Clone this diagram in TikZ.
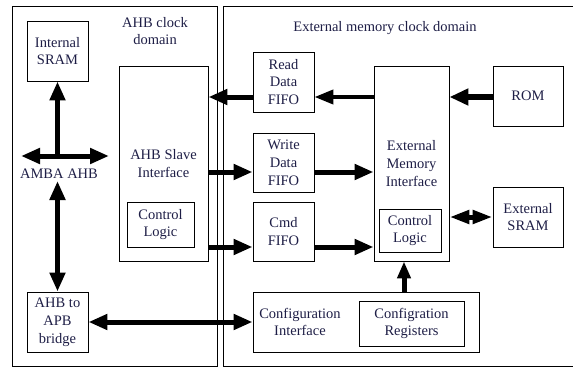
\documentclass[tikz,border=0pt]{standalone}
\usepackage{fontspec}
\setmainfont{Liberation Serif}
\usetikzlibrary{arrows.meta,calc}
\definecolor{txt}{RGB}{30,30,70}
\begin{document}
\begin{tikzpicture}[x=1pt,y=-1pt,
  fnt/.style={font=\fontsize{14.5}{17.8}\selectfont,text=txt},
  box/.style={draw,line width=0.9pt,inner sep=0pt,align=center,fnt},
  lbl/.style={inner sep=0pt,align=center,fnt},
  bus/.style={line width=5pt,-{Triangle[length=19pt,width=15pt]}},
  bus2/.style={line width=5pt,{Triangle[length=19pt,width=15pt]}-{Triangle[length=19pt,width=15pt]}},
  thinbus/.style={line width=4pt,-{Triangle[length=19pt,width=14pt]}},
  bigbus/.style={line width=6pt,-{Triangle[length=19pt,width=16pt]}}
]
\useasboundingbox (0,0) rectangle (573,367);

% clock domains
\node[box,anchor=north west,minimum width=205pt,minimum height=360pt] (ahbdom) at (12,6) {};
\node[box,anchor=north west,minimum width=360pt,minimum height=360pt] (extdom) at (223,6) {};
\node[lbl] (ahbtxt) at (155,31) {AHB clock\\domain};
\node[lbl] (exttxt) at (385,28) {External memory clock domain};

% AHB side
\node[box,minimum width=61pt,minimum height=60pt] (isram) at (57.5,51) {Internal\\SRAM};
\node[box,minimum width=89pt,minimum height=195pt] (slave) at (163.5,163.5) {AHB Slave\\Interface};
\node[box,minimum width=67pt,minimum height=45pt] (ctrll) at (160.5,224.5) {Control\\Logic};
\node[box,minimum width=61pt,minimum height=60pt] (bridge) at (57.5,322) {AHB to\\APB\\bridge};
\node[lbl] (amba) at (59,174) {AMBA AHB};

% External side
\node[box,minimum width=61pt,minimum height=60pt] (rfifo) at (283.5,82) {Read\\Data\\FIFO};
\node[box,minimum width=61pt,minimum height=59pt] (wfifo) at (283.5,162.5) {Write\\Data\\FIFO};
\node[box,minimum width=61pt,minimum height=59pt] (cfifo) at (283.5,231.5) {Cmd\\FIFO};
\node[box,minimum width=75pt,minimum height=195pt] (emi) at (411.5,163.5) {External\\Memory\\Interface};
\node[box,minimum width=62pt,minimum height=43pt] (ctrlr) at (410,230.5) {Control\\Logic};
\node[box,minimum width=70pt,minimum height=60pt] (rom) at (528,96) {ROM};
\node[box,minimum width=70pt,minimum height=60pt] (esram) at (528,217) {External\\SRAM};
\node[box,minimum width=226pt,minimum height=60pt] (cfgif) at (366,322) {};
\node[lbl] (cfgtxt) at (300,322) {Configuration\\Interface};
\node[box,minimum width=105pt,minimum height=45pt] (cfgreg) at (411.5,323.5) {Configration\\Registers};

% helper coordinates
\coordinate (yR) at (0,97);
\coordinate (yW) at (0,172);
\coordinate (yC) at (0,247);
\coordinate (yS) at (0,217);
\coordinate (xV) at (404,0);
\coordinate (busL) at (21,156);
\coordinate (busR) at (109,156);
\coordinate (busJ) at (57.5,156);
\coordinate (busD) at (57.5,181);

% AHB bus
\draw[bus] (busJ) -- (isram.south);
\draw[bus2] (busL) -- (busR);
\draw[bus2] (busD) -- (bridge.north);
\draw[bus2] (bridge.east) -- (cfgif.west);

% data paths
\draw[bus] (rfifo.west |- yR) -- (slave.east |- yR);
\draw[thinbus] (emi.west |- yR) -- (rfifo.east |- yR);
\draw[bigbus] (rom.west |- yR) -- (emi.east |- yR);
\draw[bus] (slave.east |- yW) -- (wfifo.west |- yW);
\draw[bus] (wfifo.east |- yW) -- (emi.west |- yW);
\draw[bus] (slave.east |- yC) -- (cfifo.west |- yC);
\draw[bus] (cfifo.east |- yC) -- (emi.west |- yC);
\draw[line width=5pt,{Triangle[length=20pt,width=13pt]}-{Triangle[length=20pt,width=13pt]}] (emi.east |- yS) -- (esram.west |- yS);
\draw[line width=5pt,-{Triangle[length=17pt,width=13pt]}] (cfgif.north -| xV) -- (emi.south -| xV);
\end{tikzpicture}
\end{document}
